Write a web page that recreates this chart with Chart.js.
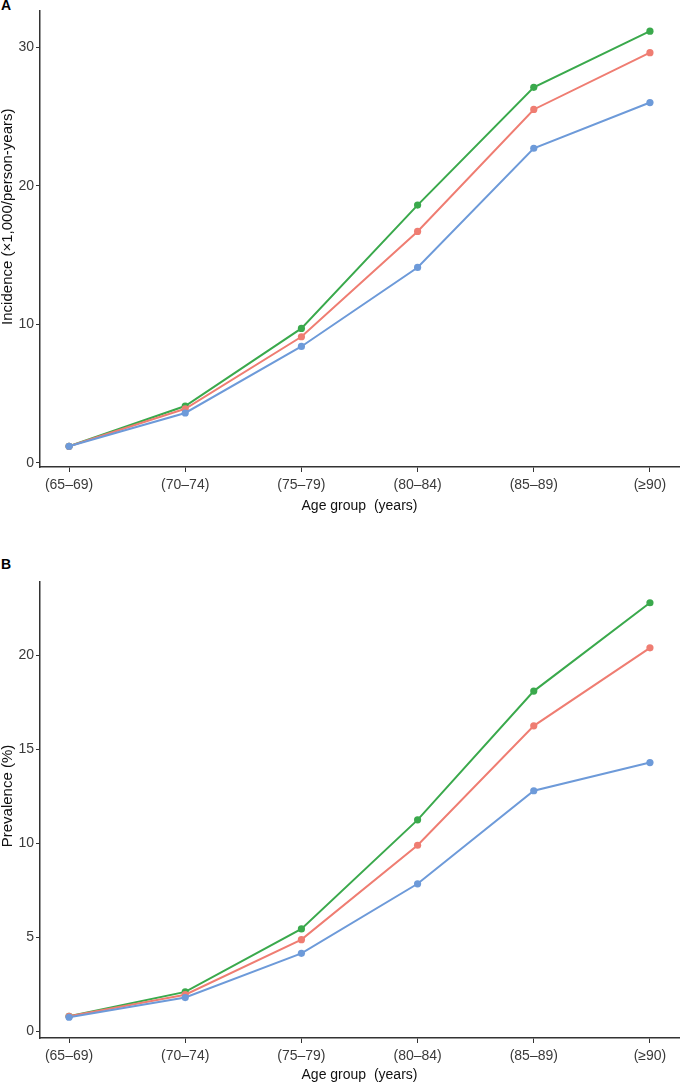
<!DOCTYPE html>
<html>
<head>
<meta charset="utf-8">
<script src="https://cdn.jsdelivr.net/npm/chart.js@4"></script>
<style>
  body { margin: 0; background: #fff; width: 683px; height: 1084px; position: relative; overflow: hidden; }
  canvas { position: absolute; left: 0; }
  .panel-tag { position: absolute; left: 1px; font: bold 14px "Liberation Sans", Arial, sans-serif; color: #000; }
</style>
</head>
<body>
<div class="panel-tag" style="top:-3px">A</div>
<div class="panel-tag" style="top:556px">B</div>
<canvas id="incidenceChart" width="683" height="515" style="top:0"></canvas>
<canvas id="prevalenceChart" width="683" height="534" style="top:550px"></canvas>
<script>
  const ageGroups = ['(65–69)', '(70–74)', '(75–79)', '(80–84)', '(85–89)', '(≥90)'];

  // panel A: incidence per 1,000 person-years
  const incidenceGreen = [1.2, 4.1, 9.7, 18.6, 27.1, 31.15];
  const incidenceRed = [1.2, 3.9, 9.1, 16.7, 25.5, 29.6];
  const incidenceBlue = [1.2, 3.6, 8.4, 14.1, 22.7, 26.0];
  const incidenceTicks = [0, 10, 20, 30];

  // panel B: prevalence (%)
  const prevalenceGreen = [0.8, 2.1, 5.45, 11.25, 18.1, 22.8];
  const prevalenceRed = [0.8, 1.95, 4.88, 9.9, 16.25, 20.4];
  const prevalenceBlue = [0.75, 1.8, 4.15, 7.85, 12.8, 14.3];
  const prevalenceTicks = [0, 5, 10, 15, 20];

  const GREEN = '#3aa94c';
  const RED = '#ef7d72';
  const BLUE = '#6d9ad9';
  const FONT = '"Liberation Sans", Arial, sans-serif';

  // y title sits a bit above the panel centre in the original, so draw it by hand
  const yTitlePlugin = {
    id: 'yTitle',
    afterDraw(chart, args, opts) {
      const { ctx, chartArea } = chart;
      const cy = (chartArea.top + chartArea.bottom) / 2 - opts.shift;
      ctx.save();
      ctx.translate(8, cy);
      ctx.rotate(-Math.PI / 2);
      ctx.fillStyle = '#111';
      ctx.font = `15px ${FONT}`;
      ctx.textAlign = 'center';
      ctx.textBaseline = 'middle';
      ctx.fillText(opts.text, 0, 0);
      ctx.restore();
    }
  };

  function toPoints(values) {
    return values.map((v, i) => ({ x: i, y: v }));
  }

  function line(values, color, order) {
    return {
      data: toPoints(values),
      borderColor: color,
      backgroundColor: color,
      borderWidth: 2,
      pointRadius: 3.6,
      pointBorderWidth: 0,
      pointHoverRadius: 3.6,
      tension: 0,
      order
    };
  }

  function range(seriesList) {
    const all = seriesList.flat();
    const lo = Math.min(...all);
    const hi = Math.max(...all);
    const pad = (hi - lo) * 0.05;
    return [lo - pad, hi + pad];
  }

  function makeChart(id, series, ticks, yTitle, titleShift, padTop, xHeight) {
    const [yMin, yMax] = range(series.map(s => s.values));
    return new Chart(document.getElementById(id), {
      type: 'line',
      data: {
        datasets: series.map(s => line(s.values, s.color, s.order))
      },
      plugins: [yTitlePlugin],
      options: {
        responsive: false,
        animation: false,
        events: [],
        layout: { padding: { top: padTop, right: 4, left: 0, bottom: 0 } },
        plugins: {
          legend: { display: false },
          tooltip: { enabled: false },
          yTitle: { text: yTitle, shift: titleShift }
        },
        scales: {
          x: {
            type: 'linear',
            min: -0.25,
            max: ageGroups.length - 1 + 0.25,
            afterBuildTicks: s => { s.ticks = ageGroups.map((_, i) => ({ value: i })); },
            afterFit: s => { s.height = xHeight; },
            grid: { drawOnChartArea: false, tickLength: 5, color: '#333', lineWidth: 1 },
            border: { color: '#333', width: 1.5 },
            ticks: {
              autoSkip: false,
              maxRotation: 0,
              padding: 5,
              color: '#3a3a3a',
              font: { family: FONT, size: 14 },
              callback: v => ageGroups[v]
            },
            title: {
              display: true,
              text: 'Age group  (years)',
              color: '#111',
              padding: { top: 0, bottom: 0 },
              font: { family: FONT, size: 14 }
            }
          },
          y: {
            min: yMin,
            max: yMax,
            afterBuildTicks: s => { s.ticks = ticks.map(v => ({ value: v })); },
            afterFit: s => { s.width = 40; },
            grid: { drawOnChartArea: false, tickLength: 4, color: '#333', lineWidth: 1 },
            border: { color: '#333', width: 1.5 },
            ticks: {
              padding: 2,
              color: '#3a3a3a',
              font: { family: FONT, size: 14 }
            }
          }
        }
      }
    });
  }

  makeChart('incidenceChart', [
    { values: incidenceGreen, color: GREEN, order: 3 },
    { values: incidenceRed, color: RED, order: 2 },
    { values: incidenceBlue, color: BLUE, order: 1 }
  ], incidenceTicks, 'Incidence (×1,000/person-years)', 22, 10, 48);

  makeChart('prevalenceChart', [
    { values: prevalenceGreen, color: GREEN, order: 3 },
    { values: prevalenceRed, color: RED, order: 2 },
    { values: prevalenceBlue, color: BLUE, order: 1 }
  ], prevalenceTicks, 'Prevalence (%)', 14, 32, 46);
</script>
</body>
</html>
